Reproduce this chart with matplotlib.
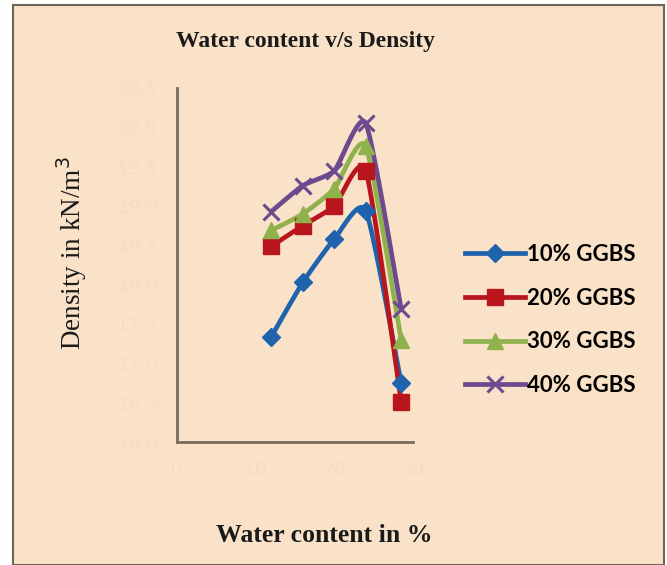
import numpy as np
import matplotlib
matplotlib.use("Agg")
import matplotlib.pyplot as plt
from matplotlib.lines import Line2D
from matplotlib.patches import Rectangle

# ---- data ----
water_content = [12, 16, 20, 24, 28.5]
ggbs10 = [17.34, 18.03, 18.58, 18.94, 16.75]
ggbs20 = [18.49, 18.75, 19.00, 19.45, 16.51]
ggbs30 = [18.69, 18.90, 19.22, 19.76, 17.30]
ggbs40 = [18.93, 19.26, 19.45, 20.05, 17.69]
series_labels = ["10% GGBS", "20% GGBS", "30% GGBS", "40% GGBS"]
x_ticks = [0, 10, 20, 30]
y_ticks = [16.0, 16.5, 17.0, 17.5, 18.0, 18.5, 19.0, 19.5, 20.0, 20.5]

colors = ["#2063ad", "#b8161c", "#8fb24c", "#6b4a8e"]
markers = ["D", "s", "^", "x"]
msizes = [9, 11, 11, 11]

BG = "#fae2c8"


def smooth(x, y, n=30, s=0.3):
    """Cardinal-spline drawing of the polyline through the data points."""
    P = np.column_stack([np.asarray(x, float), np.asarray(y, float)])
    Q = np.vstack([P[0], P, P[-1]])
    out = []
    t = np.linspace(0, 1, n)[:, None]
    h00 = 2 * t ** 3 - 3 * t ** 2 + 1
    h10 = t ** 3 - 2 * t ** 2 + t
    h01 = -2 * t ** 3 + 3 * t ** 2
    h11 = t ** 3 - t ** 2
    for i in range(1, len(Q) - 2):
        p0, p1, p2, p3 = Q[i - 1], Q[i], Q[i + 1], Q[i + 2]
        m1 = s * (p2 - p0)
        m2 = s * (p3 - p1)
        out.append(h00 * p1 + h10 * m1 + h01 * p2 + h11 * m2)
    c = np.vstack(out)
    return c[:, 0], c[:, 1]


fig = plt.figure(figsize=(6.67, 5.65), dpi=100)
fig.patch.set_facecolor("white")
# peach panel with border
fig.patches.append(Rectangle((13 / 667, 0), (664 - 13) / 667, (565 - 5) / 565,
                             transform=fig.transFigure, facecolor=BG,
                             edgecolor="#6e6458", linewidth=1.5, zorder=-5))

ax = fig.add_axes([177 / 667, (565 - 442) / 565, (413 - 177) / 667, (442 - 88) / 565])
ax.set_zorder(2)
ax.patch.set_alpha(0)

all_series = [ggbs10, ggbs20, ggbs30, ggbs40]
handles = []
for ys, col, mk, ms, lab in zip(all_series, colors, markers, msizes, series_labels):
    sx, sy = smooth(water_content, ys)
    ax.plot(sx, sy, color=col, lw=3.4, solid_capstyle="round", zorder=2)
    ax.plot(water_content, ys, linestyle="none", marker=mk, ms=ms, color=col,
            mec=col, mew=2.2 if mk == "x" else 1, zorder=3)
    handles.append(Line2D([], [], color=col, lw=3.4, marker=mk, ms=ms, mec=col,
                          mew=2.2 if mk == "x" else 1, label=lab))

ax.set_xlim(0, 30)
ax.set_ylim(16.0, 20.5)
ax.set_xticks(x_ticks)
ax.set_yticks(y_ticks)
ax.set_yticklabels([f"{v:.1f}" for v in y_ticks])
ax.tick_params(axis="both", length=0, colors="#f4dcc7", labelsize=13, pad=14)
for s in ["top", "right"]:
    ax.spines[s].set_visible(False)
for s in ["left", "bottom"]:
    ax.spines[s].set_color("#7a6c5c")
    ax.spines[s].set_linewidth(2)

fig.text(305 / 667, 1 - 42 / 565, "Water content v/s Density", ha="center", va="center",
         fontsize=17, fontweight="bold", family="Liberation Serif", color="#1a1a1a")
fig.text(324 / 667, 1 - 535 / 565, "Water content in %", ha="center", va="center",
         fontsize=18.5, fontweight="bold", family="Liberation Serif", color="#1a1a1a")
fig.text(72 / 667, 1 - 253 / 565, "Density in kN/m$^3$", ha="center", va="center",
         rotation=90, fontsize=19.5, family="Liberation Serif", color="#1a1a1a")

leg = fig.legend(handles=handles, loc="center left",
                 bbox_to_anchor=(445 / 667, 1 - 320 / 565), frameon=False,
                 prop={"family": "Lato", "weight": "bold", "size": 16},
                 handlelength=2.7, handletextpad=0.1, labelspacing=1.02)

fig.savefig("out.png", dpi=100, facecolor=fig.get_facecolor())
